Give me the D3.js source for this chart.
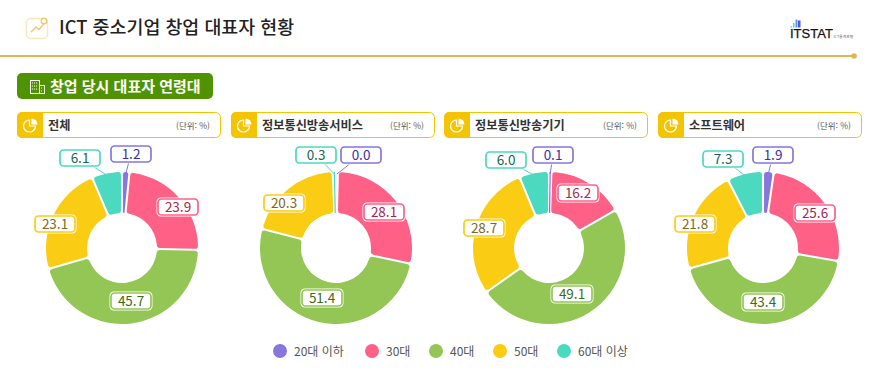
<!DOCTYPE html>
<html lang="ko">
<head>
<meta charset="UTF-8" />
<title>ICT 중소기업 창업 대표자 현황</title>
<script src="https://d3js.org/d3.v7.min.js"></script>
<style>
  html, body { margin: 0; padding: 0; background: #fff; }
  svg { display: block; }
  text { font-family: "Noto Sans CJK KR", "Noto Sans", sans-serif; }
</style>
</head>
<body>
<svg width="878" height="376"></svg>
<script>
// data
const title = "ICT 중소기업 창업 대표자 현황";
const sectionTitle = "창업 당시 대표자 연령대";
const unitLabel = "(단위: %)";
const ageGroups = ["20대 이하", "30대", "40대", "50대", "60대 이상"];
const panelNames = ["전체", "정보통신방송서비스", "정보통신방송기기", "소프트웨어"];
const totalValues = [1.2, 23.9, 45.7, 23.1, 6.1];
const serviceValues = [0.0, 28.1, 51.4, 20.3, 0.3];
const deviceValues = [0.1, 16.2, 49.1, 28.7, 6.0];
const softwareValues = [1.9, 25.6, 43.4, 21.8, 7.3];
const panelValues = [totalValues, serviceValues, deviceValues, softwareValues];

// colours
const colors = ["#8577de", "#ff6086", "#94c656", "#facc14", "#4bd9bf"];
const textColors = ["#3a2fa8", "#a8284f", "#3f6b12", "#7d6a20", "#16655a"];
const color = d3.scaleOrdinal(ageGroups, colors);
const textColor = d3.scaleOrdinal(ageGroups, textColors);

// layout
const panelX = [17, 231, 444, 658];
const panelW = 204;
const centerX = [122, 336, 549, 763];
const centerY = 248;
const outerR = 76;
const innerR = 35;
// label positions relative to each donut centre
const labelOffsets = [
    [[9, -94], [56, -41], [9, 53], [-67, -24], [-42, -90]],
    [[25, -93], [48, -36], [-14, 50], [-52, -45], [-20, -93]],
    [[4, -93], [29, -55], [23, 46], [-65, -20], [-43, -88]],
    [[10, -93], [52, -35], [0, 54], [-68, -24], [-40, -89]],
];
const legendDotX = [280, 372, 436, 500, 564];

const svg = d3.select("svg");

// header
const head = svg.append("g");
head.append("rect").attr("x", 26.5).attr("y", 18.5).attr("width", 21).attr("height", 20).attr("rx", 4)
    .attr("fill", "#fff").attr("stroke", "#fbe6bd").attr("stroke-width", 1.5);
head.append("path").attr("d", "M31 32l5-5 3 2.5 5-6").attr("fill", "none").attr("stroke", "#f6c66f").attr("stroke-width", 1.4);
head.append("circle").attr("cx", 44).attr("cy", 21).attr("r", 2.8).attr("fill", "#fff").attr("stroke", "#f6c66f").attr("stroke-width", 1.4);
head.append("text").attr("x", 59).attr("y", 34).attr("font-size", 18.4).attr("font-weight", 500).attr("fill", "#222").text(title);
head.append("line").attr("x1", 0).attr("x2", 854).attr("y1", 56).attr("y2", 56).attr("stroke", "#e3b552").attr("stroke-width", 2);
head.append("circle").attr("cx", 854).attr("cy", 56).attr("r", 2.8).attr("fill", "#e3b552");

// logo
const logoBars = [[790.5, 26, 1.5, "#6fdcec"], [793, 23, 1.5, "#5cc8f0"], [795.5, 19.5, 2, "#4f9fe8"], [798, 20.5, 2.5, "#5a55d8"]];
svg.append("g").selectAll("rect").data(logoBars).join("rect")
    .attr("x", d => d[0]).attr("y", d => d[1]).attr("width", d => d[2]).attr("height", d => 27.5 - d[1]).attr("fill", d => d[3]);
svg.append("text").attr("x", 790).attr("y", 38).attr("font-size", 13.5).style("font-family", "Liberation Sans")
    .attr("textLength", 43).attr("lengthAdjust", "spacingAndGlyphs").attr("fill", "#111").attr("stroke", "#111").attr("stroke-width", 0.25).text("ITSTAT");
svg.append("text").attr("x", 833.5).attr("y", 37.5).attr("font-size", 3.8).attr("fill", "#666").text("ICT통계포털");

// section pill
svg.append("rect").attr("x", 17).attr("y", 73).attr("width", 196).attr("height", 26).attr("rx", 5).attr("fill", "#4f9400");
const bld = svg.append("g").attr("fill", "none").attr("stroke", "#fff").attr("stroke-width", 1);
bld.append("rect").attr("x", 30.5).attr("y", 80.5).attr("width", 9).attr("height", 13);
bld.append("rect").attr("x", 39.5).attr("y", 85.5).attr("width", 5).attr("height", 8);
bld.append("path").attr("d", "M32 83h6M32 86h6M32 89h6M41 88h2M41 91h2").attr("stroke-dasharray", "1 1");
svg.append("text").attr("x", 50).attr("y", 91.5).attr("font-size", 15).attr("font-weight", 700).attr("fill", "#fff").text(sectionTitle);

// donut generators
const pie = d3.pie().sort(null).padAngle(0.025).value(d => d.value);
const arc = d3.arc().innerRadius(innerR).outerRadius(outerR).cornerRadius(3);
const midAngle = d => (d.startAngle + d.endAngle) / 2;

panelNames.forEach((name, i) => {
    const x0 = panelX[i];
    const rows = ageGroups.map((g, j) => ({ group: g, value: panelValues[i][j], offset: labelOffsets[i][j] }));

    // panel title box
    const box = svg.append("g");
    box.append("rect").attr("x", x0 + 0.5).attr("y", 112.5).attr("width", panelW - 1).attr("height", 25).attr("rx", 5)
        .attr("fill", "#fff").attr("stroke", "#f5c400");
    box.append("path").attr("d", `M${x0 + 26} 112H${x0 + 5}a5 5 0 0 0 -5 5v16a5 5 0 0 0 5 5H${x0 + 26}Z`).attr("fill", "#f5c400");
    box.append("path").attr("d", `M${x0 + 12.5} 120A6 6 0 1 0 ${x0 + 18.5} 126H${x0 + 12.5}Z`).attr("fill", "none").attr("stroke", "#fff").attr("stroke-width", 1.2);
    box.append("path").attr("d", `M${x0 + 14.5} 118.5a6 6 0 0 1 6 6h-6Z`).attr("fill", "#fff");
    box.append("text").attr("x", x0 + 31).attr("y", 129.5).attr("font-size", 12.2).attr("font-weight", 700).attr("fill", "#333").text(name);
    box.append("text").attr("x", x0 + panelW - 11).attr("y", 128.5).attr("text-anchor", "end").attr("font-size", 8.5).attr("fill", "#555").text(unitLabel);

    const g = svg.append("g").attr("transform", `translate(${centerX[i]},${centerY})`);
    const arcs = pie(rows);

    // slices
    g.selectAll("path.slice").data(arcs.filter(d => d.data.value >= 0.5)).join("path")
        .attr("class", "slice").attr("d", arc).attr("fill", d => color(d.data.group));

    // very thin slices only show up as a hairline across the ring
    g.selectAll("line.sliver").data(arcs.filter(d => d.data.value > 0 && d.data.value < 0.5)).join("line")
        .attr("class", "sliver")
        .attr("x1", d => Math.sin(midAngle(d)) * innerR)
        .attr("y1", d => -Math.cos(midAngle(d)) * innerR)
        .attr("x2", d => Math.sin(midAngle(d)) * outerR)
        .attr("y2", d => -Math.cos(midAngle(d)) * outerR)
        .attr("stroke", d => color(d.data.group)).attr("stroke-width", 1.2);

    // leader lines for the labels sitting outside the ring
    const outside = arcs.filter(d => Math.hypot(d.data.offset[0], d.data.offset[1]) > 85);
    g.selectAll("line.leader").data(outside).join("line")
        .attr("class", "leader")
        .attr("x1", d => Math.sin(midAngle(d)) * (outerR - 2))
        .attr("y1", d => -Math.cos(midAngle(d)) * (outerR - 2))
        .attr("x2", d => d.data.offset[0])
        .attr("y2", d => d.data.offset[1])
        .attr("stroke", d => color(d.data.group)).attr("stroke-width", 1);

    // value labels
    const lab = g.selectAll("g.lab").data(arcs).join("g")
        .attr("class", "lab").attr("transform", d => `translate(${d.data.offset[0]},${d.data.offset[1]})`);
    lab.append("rect").attr("x", -21.5).attr("y", -9.5).attr("width", 43).attr("height", 19).attr("rx", 4.5).attr("fill", "#fff");
    lab.append("rect").attr("x", -20).attr("y", -8).attr("width", 40).attr("height", 16).attr("rx", 3.5)
        .attr("fill", "#fff").attr("stroke", d => color(d.data.group)).attr("stroke-width", 1.7);
    lab.append("text").attr("text-anchor", "middle").attr("y", 4.8).attr("font-size", 13.5)
        .attr("fill", d => textColor(d.data.group)).text(d => d.data.value.toFixed(1));
});

// legend
const leg = svg.append("g").selectAll("g").data(ageGroups).join("g")
    .attr("transform", (d, i) => `translate(${legendDotX[i]},351)`);
leg.append("circle").attr("r", 7).attr("fill", d => color(d));
leg.append("text").attr("x", 14).attr("y", 4.5).attr("font-size", 12).attr("fill", "#555").text(d => d);
</script>
</body>
</html>
